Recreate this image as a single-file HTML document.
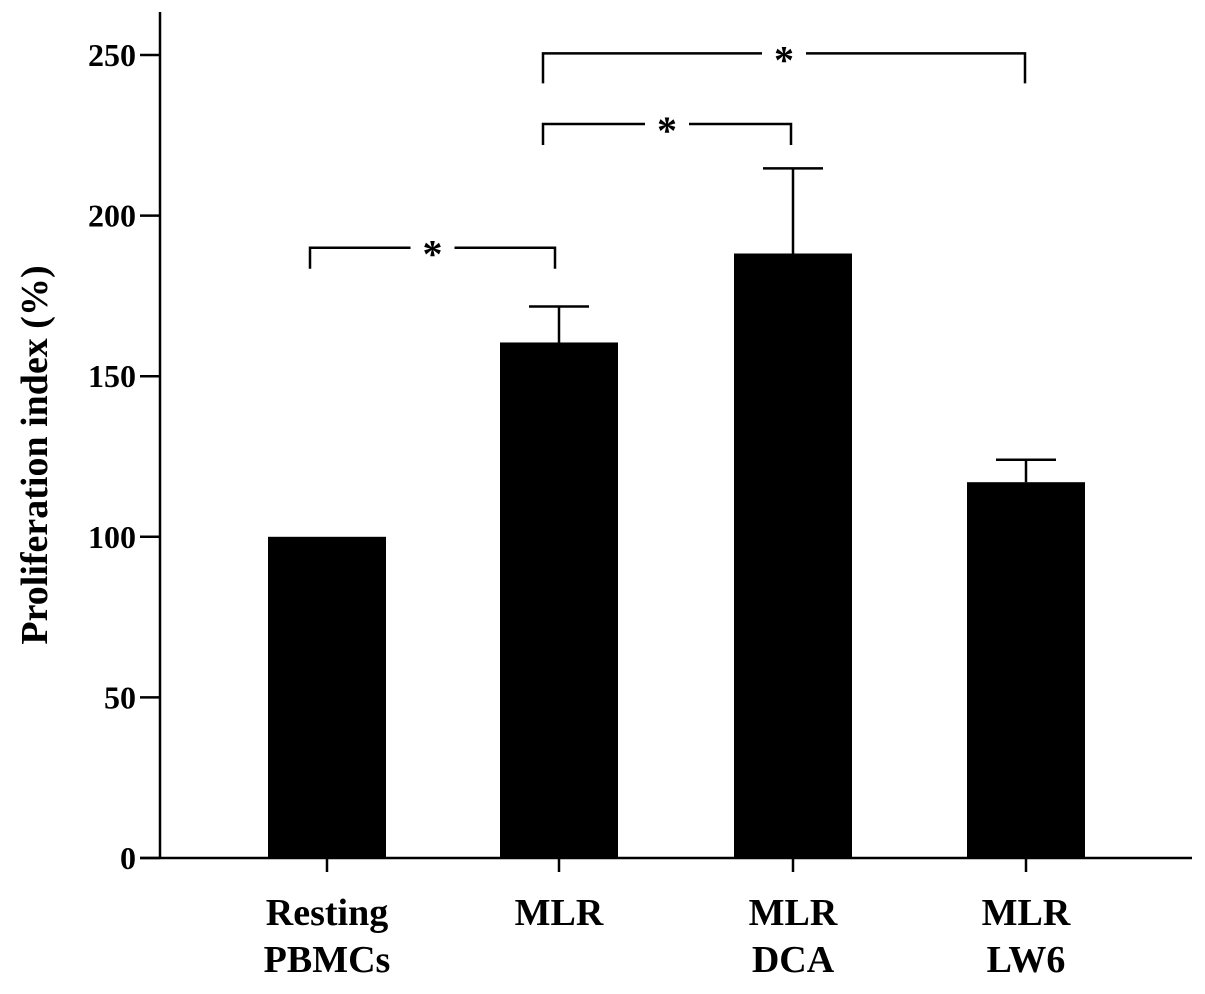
<!DOCTYPE html>
<html><head><meta charset="utf-8"><style>
html,body{margin:0;padding:0;background:#fff;}
svg text{font-family:"Liberation Serif",serif;font-weight:bold;fill:#000;}
</style></head><body>
<svg id="chart" width="1205" height="989" viewBox="0 0 1205 989" xmlns="http://www.w3.org/2000/svg">
<g id="axes"></g>
<g id="bars"></g>
<g id="sig"></g>
<text transform="translate(47,455) rotate(-90)" text-anchor="middle" font-size="38">Proliferation index (%)</text>
</svg>
<script>
const categories=[["Resting","PBMCs"],["MLR"],["MLR","DCA"],["MLR","LW6"]];
const values=[100,160.5,188.2,117];
const errors=[0,11.2,26.5,7];
const yTicks=[0,50,100,150,200,250];
const brackets=[[0,1,190],[1,2,228.5],[1,3,250.5]];

const NS="http://www.w3.org/2000/svg";
const y0=858, pxPer=(858-55)/250;
const ys=v=>y0-v*pxPer;
const centers=[327,559,793,1026], bw=118;
const xs=i=>centers[i];
function mk(tag,attrs,parent){const e=document.createElementNS(NS,tag);for(const k in attrs)e.setAttribute(k,attrs[k]);parent.appendChild(e);return e;}
const ax=document.getElementById('axes'),bars=document.getElementById('bars'),sig=document.getElementById('sig');
const yl=mk('line',{x1:160,y1:12,x2:160,y2:858,stroke:'#000','stroke-width':2.5},ax);


const xl=mk('line',{x1:140,y1:858,x2:1192,y2:858,stroke:'#000','stroke-width':2.5},ax);


yTicks.forEach(t=>{
  const l=mk('line',{x1:140,y1:ys(t),x2:160,y2:ys(t),stroke:'#000','stroke-width':2.5},ax);
  
  
  const tx=mk('text',{x:136,y:ys(t)+11,'text-anchor':'end','font-size':32},ax);tx.textContent=t;
  
  
});
categories.forEach((c,i)=>{
  const l=mk('line',{x1:xs(i),y1:858,x2:xs(i),y2:872,stroke:'#000','stroke-width':2.5},ax);
  
  
  c.forEach((s,j)=>{
    const tx=mk('text',{x:xs(i),y:925+j*47,'text-anchor':'middle','font-size':38},ax);tx.textContent=s;
    
    
  });
});
values.forEach((v,i)=>{
  const x=xs(i),e=errors[i];
  if(e>0){
    const el=mk('line',{x1:x,y1:ys(v+e),x2:x,y2:ys(v),stroke:'#000','stroke-width':2.5},bars);
    
    
    const cap=mk('line',{x1:x-30,y1:ys(v+e),x2:x+30,y2:ys(v+e),stroke:'#000','stroke-width':2.5},bars);
    
    
  }
  const r=mk('rect',{x:x-bw/2,y:ys(v),width:bw,height:y0-ys(v),fill:'#000'},bars);
  
  
});
brackets.forEach(b=>{
  const xa=b[0]===0?310:(b[0]===1?543:xs(b[0])), xb=b[1]===1?555:(b[1]===2?791:1025);
  const y=ys(b[2]), drop=b[2]>240?30:21, mid=(xa+xb)/2;
  const p=mk('path',{d:`M${xa},${y+drop}V${y}H${mid-22}M${mid+22},${y}H${xb}V${y+drop}`,fill:'none',stroke:'#000','stroke-width':2.5},sig);
  
  
  const s=mk('text',{x:mid,y:y+20,'text-anchor':'middle','font-size':40},sig);s.textContent='*';
  
  
});
</script>
</body></html>
